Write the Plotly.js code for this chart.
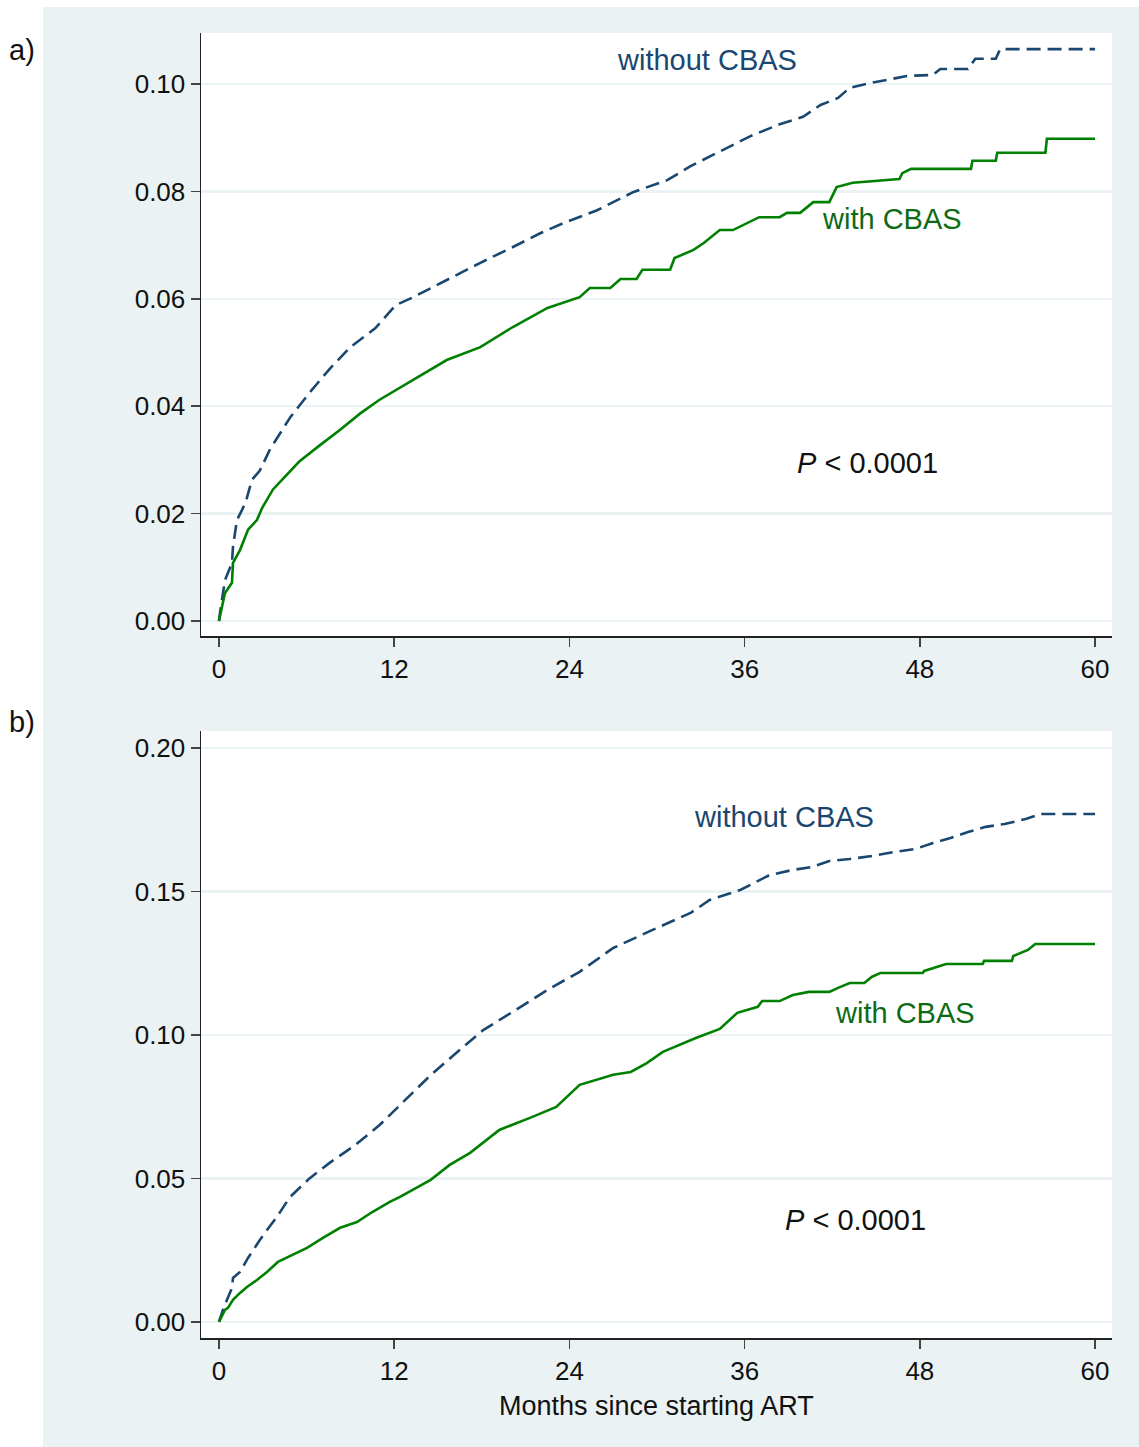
<!DOCTYPE html>
<html>
<head>
<meta charset="utf-8">
<script src="https://cdn.plot.ly/plotly-3.0.1.min.js"></script>
<style>html,body{margin:0;padding:0;background:#fff;}#chart{width:1139px;height:1447px;}</style>
</head>
<body>
<div id="chart"></div>
<script>
// Panel a) – months since starting ART and cumulative incidence
const aWithoutX = [0,0.07,0.41,0.89,0.96,1.23,1.64,1.92,2.26,2.8,3.5,4.9,6.2,7.6,9.0,10.7,12.1,13.3,15.6,17.9,20.1,22.0,23.6,25.9,28.4,30.7,32.3,34.3,36.4,38.4,40.0,41.2,42.4,43.2,44.6,46.0,47.1,48.9,49.1,49.4,51.3,51.6,51.8,53.2,53.5,60];
const aWithoutY = [0,0.0015,0.0076,0.0108,0.0138,0.0188,0.021,0.023,0.0263,0.028,0.032,0.038,0.0425,0.047,0.051,0.0545,0.0588,0.0603,0.0635,0.0667,0.0696,0.0722,0.0741,0.0765,0.0799,0.0821,0.0847,0.0875,0.0903,0.0925,0.0939,0.0961,0.0974,0.0993,0.1002,0.1009,0.1015,0.1017,0.1022,0.1028,0.1028,0.1039,0.1047,0.1047,0.1065,0.1065];
const aWithX = [0,0.41,0.89,0.96,1.44,1.99,2.6,2.95,3.7,4.7,5.5,6.9,8.3,9.7,11.0,13.3,15.6,17.9,20.1,22.5,24.7,25.4,26.8,27.5,28.6,29.0,30.9,31.2,32.5,33.2,34.3,35.2,36.2,37.0,38.4,38.9,39.8,40.7,41.8,42.3,43.4,46.6,46.8,47.4,51.5,51.6,53.2,53.3,56.6,56.7,60];
const aWithY = [0,0.0052,0.0071,0.0108,0.0132,0.017,0.0188,0.021,0.0245,0.0275,0.0297,0.0327,0.0356,0.0387,0.0412,0.0449,0.0486,0.051,0.0547,0.0583,0.0603,0.062,0.062,0.0637,0.0637,0.0654,0.0654,0.0676,0.0691,0.0704,0.0728,0.0728,0.0741,0.0752,0.0752,0.076,0.076,0.078,0.078,0.0808,0.0816,0.0823,0.0834,0.0842,0.0842,0.0857,0.0857,0.0872,0.0872,0.0898,0.0898];

// Panel b)
const bWithoutX = [0,0.27,0.55,0.89,0.96,1.44,1.99,2.33,2.81,3.29,3.97,4.86,5.6,6.2,7.6,9.3,11.0,12.4,14.5,16.5,18.1,20.1,22.5,24.7,27.0,29.7,32.3,33.6,35.7,37.7,38.4,39.3,40.6,41.8,43.2,44.8,46.3,47.7,48.9,50.1,51.3,52.5,53.8,55.3,56.3,60];
const bWithoutY = [0,0.0042,0.0077,0.0118,0.0153,0.0174,0.0223,0.0251,0.0286,0.032,0.0366,0.0435,0.047,0.050,0.0555,0.0615,0.0686,0.0756,0.086,0.0948,0.1017,0.108,0.1157,0.122,0.1303,0.1366,0.1425,0.147,0.1505,0.1557,0.1564,0.1575,0.1585,0.1606,0.1613,0.1624,0.1638,0.1648,0.1669,0.1686,0.1707,0.1725,0.1735,0.1753,0.177,0.177];
const bWithX = [0,0.41,0.62,0.96,1.44,1.92,2.6,3.29,4.04,5.07,6.03,7.12,8.3,9.45,10.5,11.7,12.4,14.5,15.8,17.2,19.2,21.3,23.1,24.7,27.0,28.2,29.3,30.4,32.7,34.3,35.5,36.9,37.2,38.4,39.3,40.4,41.8,42.4,43.2,44.2,44.7,45.3,48.2,48.3,49.0,49.8,52.3,52.4,54.3,54.4,55.4,55.9,60];
const bWithY = [0,0.0042,0.0049,0.0077,0.0101,0.0122,0.0146,0.0174,0.0209,0.0233,0.0258,0.0293,0.0328,0.0348,0.0383,0.0418,0.0436,0.0495,0.0547,0.0589,0.0669,0.0711,0.0749,0.0826,0.0861,0.0871,0.0902,0.0941,0.099,0.1021,0.1077,0.1098,0.1118,0.1118,0.1139,0.115,0.115,0.1164,0.1181,0.1181,0.1202,0.1216,0.1216,0.1223,0.1233,0.1247,0.1247,0.1258,0.1258,0.1275,0.1296,0.1317,0.1317];

const xTicks = [0,12,24,36,48,60];
const aYTicks = [0,0.02,0.04,0.06,0.08,0.10];
const bYTicks = [0,0.05,0.10,0.15,0.20];

const NAVY = '#1a476f';
const GREEN = '#008000';
const GREEN_TXT = '#0d6b16';
const BG = '#eaf2f3';
const FONT = 'Liberation Sans, Arial, sans-serif';

const W = 1139, H = 1447;
const px = v => v / W;
const py = v => 1 - v / H;

const lineW = 2.6;
const traces = [
  {x: aWithoutX, y: aWithoutY, xaxis: 'x', yaxis: 'y', mode: 'lines', line: {color: NAVY, width: lineW, dash: '14px,7px'}, hoverinfo: 'skip'},
  {x: aWithX, y: aWithY, xaxis: 'x', yaxis: 'y', mode: 'lines', line: {color: GREEN, width: lineW}, hoverinfo: 'skip'},
  {x: bWithoutX, y: bWithoutY, xaxis: 'x2', yaxis: 'y2', mode: 'lines', line: {color: NAVY, width: lineW, dash: '14px,7px'}, hoverinfo: 'skip'},
  {x: bWithX, y: bWithY, xaxis: 'x2', yaxis: 'y2', mode: 'lines', line: {color: GREEN, width: lineW}, hoverinfo: 'skip'}
];

const axCommon = {
  showline: true, linecolor: '#222', linewidth: 1.5,
  ticks: 'outside', ticklen: 9, tickwidth: 1.5, tickcolor: '#444',
  tickfont: {family: FONT, size: 26, color: '#111'},
  zeroline: false, fixedrange: true
};

const xDom = [px(201), px(1112)];
const ann = (xref, yref, x, y, text, size, color) => ({xref, yref, x, y, text, showarrow: false, xanchor: 'center', yanchor: 'middle', font: {family: FONT, size, color}});

const layout = {
  width: W, height: H,
  margin: {l: 0, r: 0, t: 0, b: 0},
  paper_bgcolor: BG,
  plot_bgcolor: '#ffffff',
  showlegend: false,
  font: {family: FONT},
  xaxis: Object.assign({}, axCommon, {domain: xDom, anchor: 'y', range: [-1.23, 61.16], tickvals: xTicks, ticktext: xTicks.map(String), showgrid: false}),
  yaxis: Object.assign({}, axCommon, {domain: [py(636), py(33)], anchor: 'x', range: [-0.0028, 0.1095], tickvals: aYTicks, ticktext: aYTicks.map(v => v.toFixed(2)), showgrid: true, gridcolor: BG, gridwidth: 2.5}),
  xaxis2: Object.assign({}, axCommon, {domain: xDom, anchor: 'y2', range: [-1.23, 61.16], tickvals: xTicks, ticktext: xTicks.map(String), showgrid: false}),
  yaxis2: Object.assign({}, axCommon, {domain: [py(1338), py(731)], anchor: 'x2', range: [-0.0056, 0.2059], tickvals: bYTicks, ticktext: bYTicks.map(v => v.toFixed(2)), showgrid: true, gridcolor: BG, gridwidth: 2.5}),
  shapes: [
    {type: 'rect', xref: 'paper', yref: 'paper', x0: 0, x1: px(43), y0: 0, y1: 1, fillcolor: '#ffffff', line: {width: 0}, layer: 'below'},
    {type: 'rect', xref: 'paper', yref: 'paper', x0: 0, x1: 1, y0: py(7), y1: 1, fillcolor: '#ffffff', line: {width: 0}, layer: 'below'}
  ],
  annotations: [
    ann('x', 'y', 33.4, 0.1045, 'without CBAS', 29, NAVY),
    ann('x', 'y', 46.1, 0.0749, 'with CBAS', 29, GREEN_TXT),
    ann('x', 'y', 44.4, 0.0294, '<i>P</i> &lt; 0.0001', 29, '#111'),
    ann('x2', 'y2', 38.7, 0.176, 'without CBAS', 29, NAVY),
    ann('x2', 'y2', 47.0, 0.1077, 'with CBAS', 29, GREEN_TXT),
    ann('x2', 'y2', 43.6, 0.0355, '<i>P</i> &lt; 0.0001', 29, '#111'),
    ann('paper', 'paper', px(657), py(1406), 'Months since starting ART', 27, '#111'),
    ann('paper', 'paper', px(22), py(50), 'a)', 29, '#111'),
    ann('paper', 'paper', px(22), py(722), 'b)', 29, '#111')
  ]
};

Plotly.newPlot('chart', traces, layout, {staticPlot: true, displayModeBar: false});
</script>
</body>
</html>
